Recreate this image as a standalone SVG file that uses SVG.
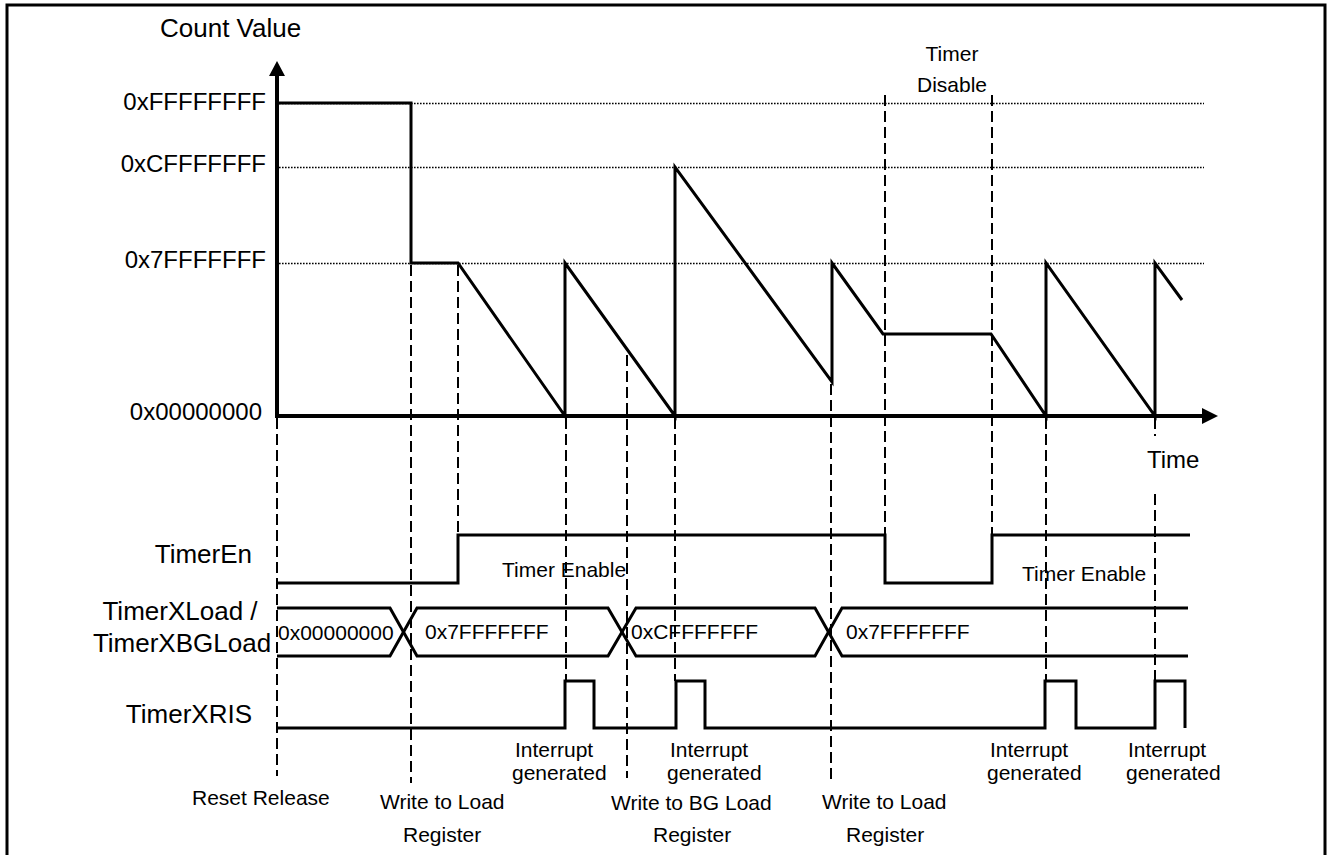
<svg xmlns="http://www.w3.org/2000/svg" width="1330" height="855" viewBox="0 0 1330 855">
  <style>
    text { font-family: "Liberation Sans", Arial, sans-serif; fill: #000; }
    .big { font-size: 26px; }
    .hex { font-size: 24px; }
    .small { font-size: 21px; }
    .wave { fill: none; stroke: #000; stroke-width: 3; stroke-linejoin: miter; }
    .axis { fill: none; stroke: #000; stroke-width: 4; }
    .dash { fill: none; stroke: #000; stroke-width: 2; stroke-dasharray: 11 5; }
    .dot { fill: none; stroke: #000; stroke-width: 1.4; stroke-dasharray: 1.6 1.4; }
  </style>

  <rect width="1330" height="855" fill="#fff"/>

  <!-- outer frame (bottom edge runs off the sheet) -->
  <g id="frame">
    <rect x="7" y="5" width="1318" height="870" fill="none" stroke="#000" stroke-width="3"/>
  </g>

  <!-- reference levels -->
  <g id="levels">
    <line class="dot" x1="279" y1="103.5" x2="1204" y2="103.5"/>
    <line class="dot" x1="279" y1="167.5" x2="1204" y2="167.5"/>
    <line class="dot" x1="279" y1="263.5" x2="1204" y2="263.5"/>
    <text class="hex" x="266" y="110" text-anchor="end">0xFFFFFFFF</text>
    <text class="hex" x="266" y="172" text-anchor="end">0xCFFFFFFF</text>
    <text class="hex" x="266" y="268" text-anchor="end">0x7FFFFFFF</text>
    <text class="hex" x="262" y="420" text-anchor="end">0x00000000</text>
  </g>

  <!-- axes -->
  <g id="axes">
    <line class="axis" x1="277" y1="418" x2="277" y2="74"/>
    <polygon points="277,61 269,76 285,76" fill="#000"/>
    <line class="axis" x1="275" y1="416" x2="1204" y2="416"/>
    <polygon points="1218,416 1202,408 1202,424" fill="#000"/>
    <text class="big" x="160" y="37">Count Value</text>
    <text class="hex" x="1147" y="468">Time</text>
  </g>

  <!-- event markers -->
  <g id="markers">
    <line class="dash" x1="277" y1="418" x2="277" y2="776"/>
    <line class="dash" x1="411" y1="265" x2="411" y2="783"/>
    <line class="dash" x1="458" y1="265" x2="458" y2="535"/>
    <line class="dash" x1="566" y1="418" x2="566" y2="681"/>
    <line class="dash" x1="627" y1="355" x2="627" y2="778"/>
    <line class="dash" x1="675" y1="418" x2="675" y2="681"/>
    <line class="dash" x1="831" y1="384" x2="831" y2="783"/>
    <line class="dash" x1="885" y1="95" x2="885" y2="535"/>
    <line class="dash" x1="992" y1="95" x2="992" y2="535"/>
    <line class="dash" x1="1046" y1="418" x2="1046" y2="681"/>
    <line class="dash" x1="1155" y1="418" x2="1155" y2="436"/>
    <line class="dash" x1="1155" y1="494" x2="1155" y2="681"/>
  </g>

  <!-- counter value over time -->
  <g id="count-waveform">
    <path class="wave" d="M277,103 H411 V263 H458 L565,416 V263 L675,416 V167 L832,382 V263 L883,334 H991 L1046,416 V263 L1155,416 V263 L1182,300"/>
    <text class="small" x="952" y="61" text-anchor="middle">Timer</text>
    <text class="small" x="952" y="92" text-anchor="middle">Disable</text>
  </g>

  <!-- TimerEn -->
  <g id="timer-en">
    <text class="big" x="252" y="563" text-anchor="end">TimerEn</text>
    <path class="wave" d="M277,583 H458 V535 H885 V583 H992 V535 H1190"/>
    <text class="small" x="502" y="577">Timer Enable</text>
    <text class="small" x="1022" y="581">Timer Enable</text>
  </g>

  <!-- TimerXLoad / TimerXBGLoad bus -->
  <g id="load-bus">
    <text class="big" x="180" y="620" text-anchor="middle">TimerXLoad /</text>
    <text class="big" x="182" y="652" text-anchor="middle">TimerXBGLoad</text>
    <path class="wave" d="M277,608 H390 L417,656 H608 L636,608 H815 L842,656 H1188"/>
    <path class="wave" d="M277,656 H390 L417,608 H608 L636,656 H815 L842,608 H1188"/>
    <text class="small" x="278" y="640">0x00000000</text>
    <text class="small" x="425" y="639">0x7FFFFFFF</text>
    <text class="small" x="631" y="639">0xCFFFFFFF</text>
    <text class="small" x="846" y="639">0x7FFFFFFF</text>
  </g>

  <!-- TimerXRIS -->
  <g id="timer-ris">
    <text class="big" x="252" y="723" text-anchor="end">TimerXRIS</text>
    <path class="wave" d="M277,728 H565 V681 H594 V728 H676 V681 H705 V728 H1045 V681 H1076 V728 H1155 V681 H1185 V728"/>
  </g>

  <!-- event captions -->
  <g id="captions">
    <text class="small" x="192" y="805">Reset Release</text>
    <text class="small" x="380" y="809">Write to Load</text>
    <text class="small" x="403" y="842">Register</text>
    <text class="small" x="515" y="757">Interrupt</text>
    <text class="small" x="512" y="780">generated</text>
    <text class="small" x="611" y="810">Write to BG Load</text>
    <text class="small" x="653" y="842">Register</text>
    <text class="small" x="670" y="757">Interrupt</text>
    <text class="small" x="667" y="780">generated</text>
    <text class="small" x="822" y="809">Write to Load</text>
    <text class="small" x="846" y="842">Register</text>
    <text class="small" x="990" y="757">Interrupt</text>
    <text class="small" x="987" y="780">generated</text>
    <text class="small" x="1128" y="757">Interrupt</text>
    <text class="small" x="1126" y="780">generated</text>
  </g>
</svg>
